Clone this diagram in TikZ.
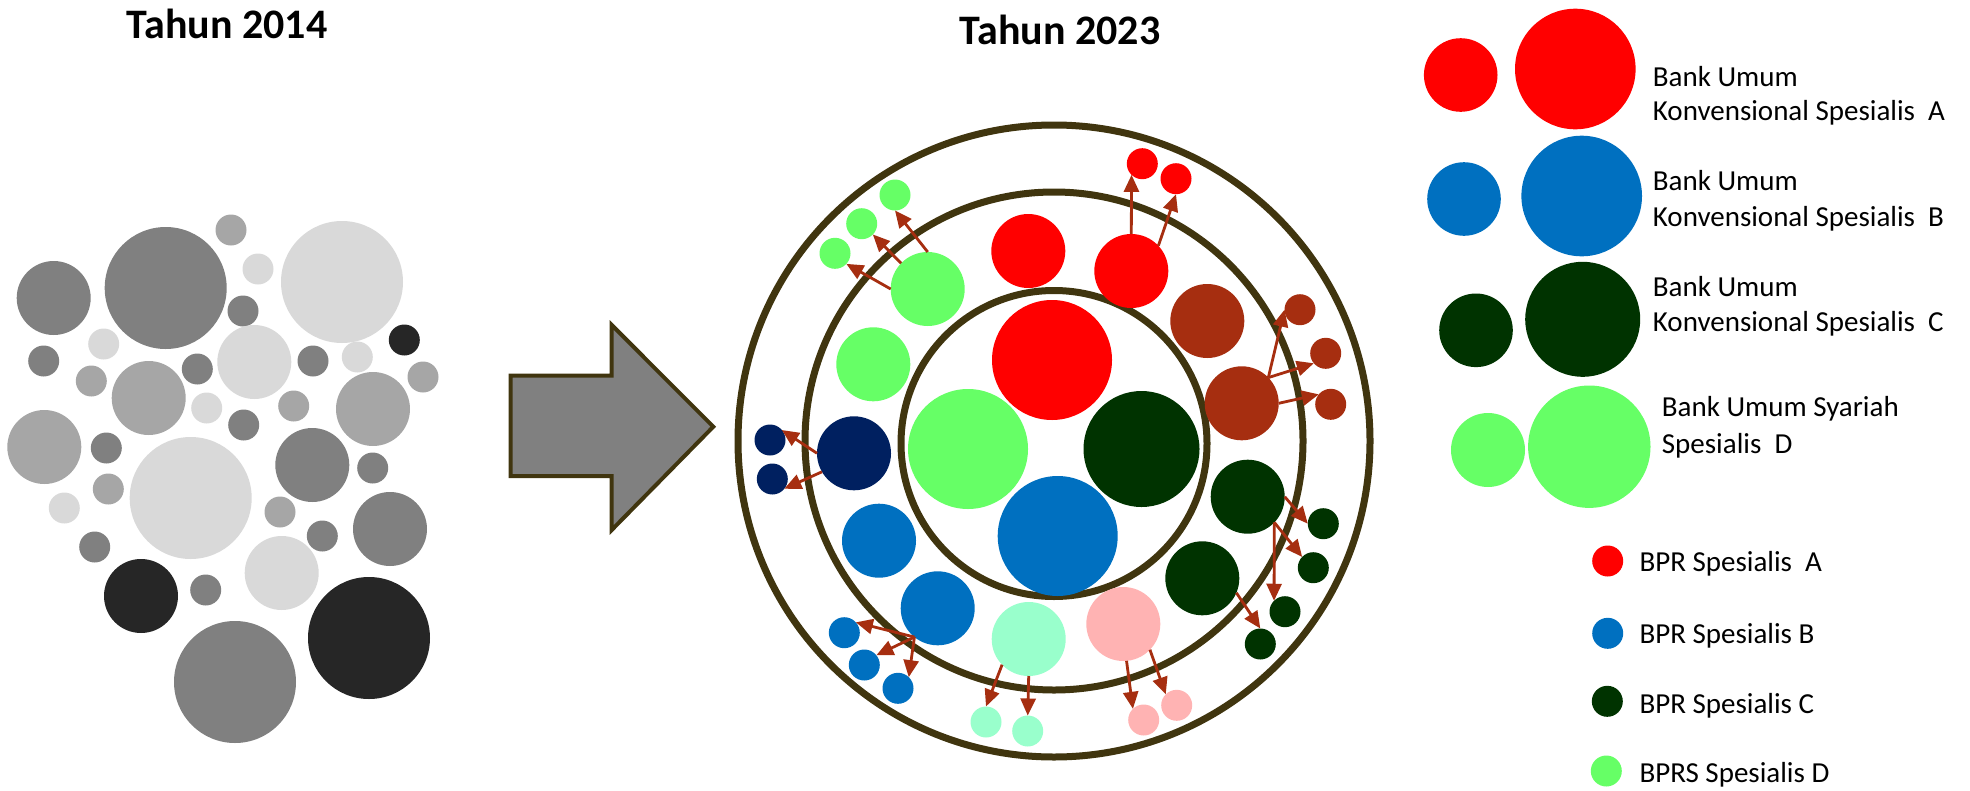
\documentclass[tikz,border=0pt]{standalone}
\usepackage{fontspec}
\setmainfont{Carlito}
\usetikzlibrary{arrows.meta}
\definecolor{ringc}{RGB}{64,53,15}
\definecolor{cred}{RGB}{255,0,0}
\definecolor{cblue}{RGB}{0,112,192}
\definecolor{cdkgreen}{RGB}{0,51,0}
\definecolor{clgreen}{RGB}{102,255,102}
\definecolor{cnavy}{RGB}{0,32,96}
\definecolor{cbrown}{RGB}{166,46,16}
\definecolor{caqua}{RGB}{153,255,204}
\definecolor{cpink}{RGB}{255,179,179}
\definecolor{gA}{RGB}{38,38,38}
\definecolor{gB}{RGB}{128,128,128}
\definecolor{gC}{RGB}{166,166,166}
\definecolor{gD}{RGB}{217,217,217}
\begin{document}
\begin{tikzpicture}[x=1pt,y=-1pt,
 dot/.style={circle,inner sep=0pt,outer sep=0pt,draw=none},
 ss/.style={dot,minimum size=31pt},
 sm/.style={dot,minimum size=74pt},
 sl/.style={dot,minimum size=122pt},
 ring/.style={draw=ringc,line width=7pt},
 arr/.style={draw=cbrown,line width=2.8pt,-{Triangle[length=17pt,width=15pt]}},
 title/.style={font=\fontsize{42}{50}\selectfont\bfseries,anchor=base},
 leg/.style={font=\fontsize{29}{35}\selectfont,anchor=base west,inner sep=0pt}
]
\path[use as bounding box] (0,0) rectangle (1970,790);

% titles
\node[title] (t2014) at (227,38) {Tahun 2014};
\node[title] (t2023) at (1060,44.5) {Tahun 2023};

% left cluster
\node[sm,fill=gB] (l1) at (53.7,298) {};
\node[sl,fill=gB] (l2) at (165.7,288) {};
\node[ss,fill=gC] (l3) at (231,230) {};
\node[ss,fill=gD] (l4) at (258,269) {};
\node[sl,fill=gD] (l5) at (342,282) {};
\node[ss,fill=gB] (l6) at (243,311) {};
\node[ss,fill=gB] (l7) at (43.7,361) {};
\node[ss,fill=gD] (l8) at (103.7,344) {};
\node[sm,fill=gC] (l9) at (148.7,398) {};
\node[ss,fill=gC] (l10) at (91.3,381) {};
\node[ss,fill=gB] (l11) at (197.3,369) {};
\node[sm,fill=gD] (l12) at (254.3,362) {};
\node[ss,fill=gB] (l13) at (313,361) {};
\node[ss,fill=gD] (l14) at (357.3,357) {};
\node[ss,fill=gA] (l15) at (404.3,340) {};
\node[ss,fill=gC] (l16) at (423,377) {};
\node[sm,fill=gC] (l17) at (373,409) {};
\node[ss,fill=gD] (l18) at (206.7,408) {};
\node[ss,fill=gB] (l19) at (243.7,425) {};
\node[ss,fill=gC] (l20) at (293.7,406) {};
\node[sm,fill=gC] (l21) at (44.3,447) {};
\node[ss,fill=gB] (l22) at (106.3,448) {};
\node[sl,fill=gD] (l23) at (190.7,498) {};
\node[ss,fill=gC] (l24) at (108.3,489) {};
\node[ss,fill=gD] (l25) at (64.3,508) {};
\node[sm,fill=gB] (l26) at (312.3,465) {};
\node[ss,fill=gB] (l27) at (372.7,468) {};
\node[ss,fill=gC] (l28) at (280,512) {};
\node[ss,fill=gB] (l29) at (322.3,536) {};
\node[sm,fill=gB] (l30) at (390,529) {};
\node[ss,fill=gB] (l31) at (94.7,547) {};
\node[sm,fill=gA] (l32) at (141,596) {};
\node[sm,fill=gD] (l33) at (281.7,573) {};
\node[ss,fill=gB] (l34) at (205.7,590) {};
\node[sl,fill=gB] (l35) at (235,682) {};
\node[sl,fill=gA] (l36) at (369,638) {};

% block arrow
\draw[draw=ringc,line width=4pt,fill=gB,line join=miter]
  (510.7,375.7) -- (611.7,375.7) -- (611.7,325) -- (713.3,426.7)
  -- (611.7,530) -- (611.7,476) -- (510.7,476) -- cycle;

% rings
\draw[ring] (1054,441) circle[radius=316pt];
\draw[ring] (1054,441) circle[radius=249pt];
\draw[ring] (1054,443.5) circle[radius=153pt];

% inner circles
\node[dot,fill=cred,minimum size=120pt] (ired) at (1052,360) {};
\node[dot,fill=clgreen,minimum size=120pt] (igreen) at (968,449) {};
\node[dot,fill=cdkgreen,minimum size=116pt] (idg) at (1141.5,449) {};
\node[dot,fill=cblue,minimum size=120pt] (iblue) at (1057.7,536) {};

% middle ring circles
\node[sm,fill=clgreen] (lg1) at (927.7,289) {};
\node[sm,fill=clgreen] (lg2) at (873.3,364.3) {};
\node[sm,fill=cred] (rd1) at (1028.3,251) {};
\node[sm,fill=cred] (rd2) at (1131.3,271) {};
\node[sm,fill=cbrown] (br1) at (1207.3,321) {};
\node[sm,fill=cbrown] (br2) at (1241.7,403.3) {};
\node[sm,fill=cnavy] (nv) at (854,453.3) {};
\node[sm,fill=cblue] (bl1) at (879,540.7) {};
\node[sm,fill=cblue] (bl2) at (937.7,608.3) {};
\node[sm,fill=caqua] (aq) at (1028.7,639) {};
\node[sm,fill=cpink] (pk) at (1123.3,624) {};
\node[sm,fill=cdkgreen] (dg1) at (1247.7,496.7) {};
\node[sm,fill=cdkgreen] (dg2) at (1202.3,578.3) {};

% outer ring small circles
\node[ss,fill=clgreen] (sg1) at (895,195) {};
\node[ss,fill=clgreen] (sg2) at (861.7,223.7) {};
\node[ss,fill=clgreen] (sg3) at (835,253.3) {};
\node[ss,fill=cred] (sr1) at (1142.3,163.7) {};
\node[ss,fill=cred] (sr2) at (1176,178.7) {};
\node[ss,fill=cbrown] (sb1) at (1300,309.7) {};
\node[ss,fill=cbrown] (sb2) at (1325.7,353.3) {};
\node[ss,fill=cbrown] (sb3) at (1330.7,404.3) {};
\node[ss,fill=cnavy] (sn1) at (770,440) {};
\node[ss,fill=cnavy] (sn2) at (772.3,479) {};
\node[ss,fill=cblue] (sbl1) at (844.3,632.7) {};
\node[ss,fill=cblue] (sbl2) at (864.3,665) {};
\node[ss,fill=cblue] (sbl3) at (898,688.3) {};
\node[ss,fill=caqua] (sa1) at (986,722) {};
\node[ss,fill=caqua] (sa2) at (1027.7,731) {};
\node[ss,fill=cpink] (sp1) at (1143.7,720) {};
\node[ss,fill=cpink] (sp2) at (1176.7,705.3) {};
\node[ss,fill=cdkgreen] (sd1) at (1323.3,523.7) {};
\node[ss,fill=cdkgreen] (sd2) at (1313.3,567.7) {};
\node[ss,fill=cdkgreen] (sd3) at (1285,611.7) {};
\node[ss,fill=cdkgreen] (sd4) at (1260.3,644) {};

% arrows
\draw[arr] (lg1.90) -- (sg1.-90);
\draw[arr] (lg1.136) -- (sg2.-44);
\draw[arr] (lg1.180) -- (sg3.-43);
\draw[arr] (rd2.90) -- (sr1.-134);
\draw[arr] (rd2.43) -- (sr2.-90);
\draw[arr] (br2.44) -- (sb1.180);
\draw[arr] (br2.44) -- (sb2.-140);
\draw[arr] (br2.0) -- (sb3.140);
\draw[arr] (nv.180) -- (sn1.40);
\draw[arr] (nv.-150) -- (sn2.-39);
\draw[arr] (bl2.-129) -- (sbl1.42);
\draw[arr] (bl2.-129) -- (sbl2.39);
\draw[arr] (bl2.-129) -- (sbl3.46);
\draw[arr] (aq.-136) -- (sa1.90);
\draw[arr] (aq.-90) -- (sa2.90);
\draw[arr] (pk.-85) -- (sp1.134);
\draw[arr] (pk.-44) -- (sp2.135);
\draw[arr] (dg1.0) -- (sd1.180);
\draw[arr] (dg1.-44) -- (sd2.136);
\draw[arr] (dg1.-44) -- (sd3.135);
\draw[arr] (dg2.-23) -- (sd4.90);

% legend
\node[dot,fill=cred,minimum size=73.6pt] (lgA1) at (1460.7,75) {};
\node[dot,fill=cred,minimum size=120.6pt] (lgA2) at (1575.3,69) {};
\node[leg] (txA1) at (1652.7,86) {Bank Umum};
\node[leg] (txA2) at (1652.7,120.7) {Konvensional Spesialis\ \ A};

\node[dot,fill=cblue,minimum size=73.6pt] (lgB1) at (1464,199) {};
\node[dot,fill=cblue,minimum size=120.6pt] (lgB2) at (1581.7,196) {};
\node[leg] (txB1) at (1652.7,190.7) {Bank Umum};
\node[leg] (txB2) at (1652.7,226) {Konvensional Spesialis\ \ B};

\node[dot,fill=cdkgreen,minimum size=73.6pt] (lgC1) at (1476,330.3) {};
\node[dot,fill=cdkgreen,minimum size=115pt] (lgC2) at (1582.7,319.3) {};
\node[leg] (txC1) at (1652.7,296.7) {Bank Umum};
\node[leg] (txC2) at (1652.7,331.7) {Konvensional Spesialis\ \ C};

\node[dot,fill=clgreen,minimum size=74pt] (lgD1) at (1488,450) {};
\node[dot,fill=clgreen,minimum size=122.4pt] (lgD2) at (1589.3,446.7) {};
\node[leg] (txD1) at (1661.7,416.7) {Bank Umum Syariah};
\node[leg] (txD2) at (1661.7,453.3) {Spesialis\ \ D};

\node[dot,fill=cred,minimum size=31pt] (bA) at (1607.7,561) {};
\node[leg] (tbA) at (1639.3,571.7) {BPR Spesialis\ \ A};
\node[dot,fill=cblue,minimum size=31pt] (bB) at (1607.7,633.3) {};
\node[leg] (tbB) at (1639.3,643.3) {BPR Spesialis B};
\node[dot,fill=cdkgreen,minimum size=31pt] (bC) at (1607.3,701.3) {};
\node[leg] (tbC) at (1639.3,713.3) {BPR Spesialis C};
\node[dot,fill=clgreen,minimum size=31pt] (bD) at (1606.3,771) {};
\node[leg] (tbD) at (1639.3,782.7) {BPRS Spesialis D};
\end{tikzpicture}
\end{document}
